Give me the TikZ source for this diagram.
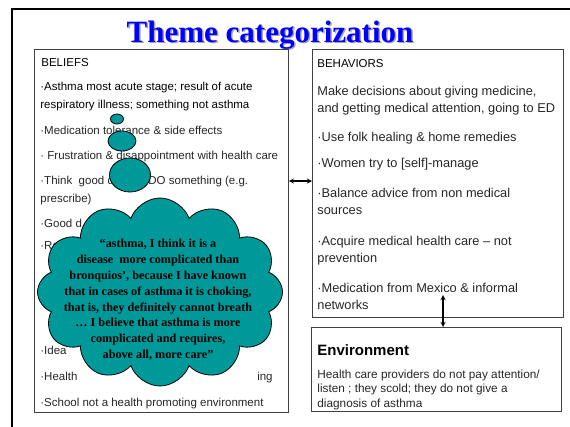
\documentclass[tikz,border=0pt]{standalone}
\usepackage{fontspec}
\setmainfont{Liberation Serif}
\setsansfont{Liberation Sans}
\usetikzlibrary{shapes.symbols,shapes.geometric}

\definecolor{bubbleteal}{RGB}{0,153,153}
\definecolor{titleblue}{RGB}{0,0,255}

\tikzset{
    panel/.style={draw=black!75, line width=0.8pt, anchor=north west},
    item/.style={anchor=base west, inner sep=0pt, align=left, text=black!85,
        font=\sffamily\fontsize{11.5}{17.5}\selectfont},
    bitem/.style={item, font=\sffamily\fontsize{12.8}{17}\selectfont},
    eitem/.style={item, font=\sffamily\fontsize{11.8}{14.5}\selectfont},
    bubble/.style={ellipse, draw=black, fill=bubbleteal, inner sep=0pt},
}

\begin{document}
\begin{tikzpicture}[x=1pt, y=-1pt, thick, >=stealth]
    \useasboundingbox (0,0) rectangle (570,426);
    \draw[line width=2pt] (12,432) |- (576,9);
    \node[anchor=base, text=black!35, font=\bfseries\fontsize{31}{31}\selectfont] (titleshadow) at (271.5,43.5) {Theme categorization};
    \node[anchor=base, text=titleblue, font=\bfseries\fontsize{31}{31}\selectfont] (title) at (270,42) {Theme categorization};

    % the three boxes
    \node[panel, minimum width=254pt, minimum height=363pt] (beliefs) at (34,49) {};
    \node[panel, minimum width=251pt, minimum height=268pt] (behaviors) at (312,49) {};
    \node[panel, minimum width=250pt, minimum height=84pt] (environment) at (311,327) {};

    % beliefs (multi-line nodes sit on their last line)
    \node[item, text=black] (blabel) at (41,66) {BELIEFS};
    \node[item, text=black] (b1) at (40,108) {·Asthma most acute stage; result of acute\\respiratory illness; something not asthma};
    \node[item] (b2) at (40,134) {·Medication tolerance \& side effects};
    \node[item] (b3) at (40,159) {· Frustration \& disappointment with health care};
    \node[item] (b4) at (40,202) {·Think\ \ good d\phantom{octors} DO something (e.g.\\prescribe)};
    \node[item] (b5) at (40,227) {·Good d};
    \node[item] (b6) at (40,249) {·Re};
    \node[item] (b7) at (40,301) {·};
    \node[item] (b8) at (40,354) {·Idea};
    \node[item] (b9) at (40,380) {·Health};
    \node[item, anchor=base east] (b9end) at (273,380) {ing};
    \node[item] (b10) at (40,406) {·School not a health promoting environment};

    % behaviors
    \node[item, text=black] (hlabel) at (317,67) {BEHAVIORS};
    \node[bitem] (h1) at (317,112) {Make decisions about giving medicine,\\and getting medical attention, going to ED};
    \node[bitem] (h2) at (317,141) {·Use folk healing \& home remedies};
    \node[bitem] (h3) at (317,167) {·Women try to [self]-manage};
    \node[bitem] (h4) at (317,214) {·Balance advice from non medical\\sources};
    \node[bitem] (h5) at (317,262) {·Acquire medical health care -- not\\prevention};
    \node[bitem] (h6) at (317,309) {·Medication from Mexico \& informal\\networks};

    % environment
    \node[item, text=black, font=\sffamily\bfseries\fontsize{15}{15}\selectfont] (elabel) at (317,355) {Environment};
    \node[eitem] (e1) at (317,407) {Health care providers do not pay attention/\\listen ; they scold; they do not give a\\diagnosis of asthma};

    % links
    \coordinate (hlink) at (300,181);
    \coordinate (vlink) at (443,295);
    \draw[<->, line width=1.3pt] (hlink -| beliefs.east) -- (hlink -| behaviors.west);
    \draw[<->, line width=1.3pt] (vlink) -- (vlink |- environment.north);

    % thought bubble
    \node[bubble, minimum width=13pt, minimum height=10pt] (puff1) at (117,119) {};
    \node[bubble, minimum width=28pt, minimum height=20pt] (puff2) at (122,141) {};
    \node[bubble, minimum width=41pt, minimum height=34pt] (puff3) at (130,175) {};
    \node[cloud, cloud puffs=12, cloud puff arc=140, aspect=1.3, draw=black, fill=bubbleteal,
        minimum width=245pt, minimum height=188pt] (quote) at (160,292) {};
    \node[align=center, inner sep=0pt, font=\bfseries\fontsize{12.2}{15.8}\selectfont] (quotetext) at (158,300)
        {“asthma, I think it is a\\disease\ \ more complicated than\\bronquios’, because I have known\\that in cases of asthma it is choking,\\that is, they definitely cannot breath\\… I believe that asthma is more\\complicated and requires,\\above all, more care”};
\end{tikzpicture}
\end{document}
